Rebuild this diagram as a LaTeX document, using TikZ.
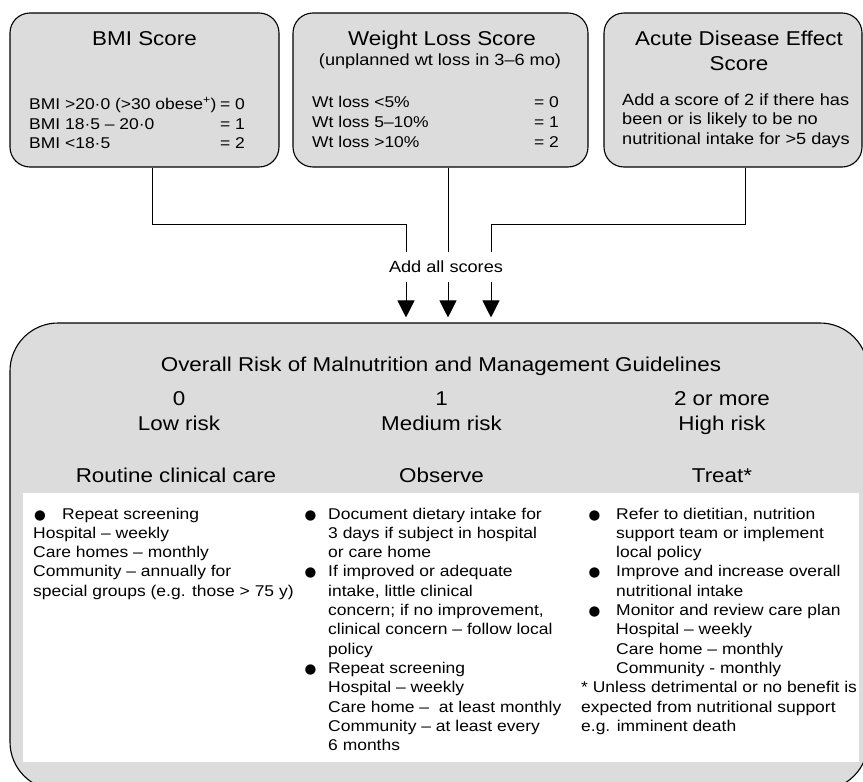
\documentclass[tikz,border=0pt]{standalone}
\usepackage{fontspec}
\setmainfont{Liberation Sans}[FakeStretch=1.12]
\newfontfamily\dejavu{DejaVu Sans}
\usetikzlibrary{arrows.meta}
\definecolor{boxgray}{RGB}{220,220,220}
\newcommand\bodyfont{\fontsize{15.6}{19.3}\selectfont}
\newcommand\headfont{\fontsize{20}{24}\selectfont}
\newcommand\bul[1]{\makebox[#1][l]{\hspace*{1pt}{\dejavu\fontsize{13.5}{15}\selectfont ●}}}
\begin{document}
\begin{tikzpicture}[x=1pt,y=-1pt,
  topbox/.style={draw=black, line width=1.1pt, fill=boxgray, rounded corners=20pt, inner sep=0pt, minimum height=154pt},
  txt/.style={inner sep=0pt, font=\bodyfont},
  head/.style={inner sep=0pt, font=\headfont, anchor=base},
  arr/.style={line width=1pt, -{Triangle[width=17pt,length=17pt]}, shorten >=5pt}]
\useasboundingbox (0,0) rectangle (863,782);

% top boxes
\node[topbox, minimum width=269pt] (bmi) at (144.5,90) {};
\node[topbox, minimum width=295pt] (wt) at (440.5,90) {};
\node[topbox, minimum width=258pt] (acute) at (733,90) {};

% bottom box
\node[draw=black, line width=1.1pt, fill=boxgray, rounded corners=48pt, inner sep=0pt,
      minimum width=858pt, minimum height=467pt] (risk) at (439,556.5) {};
\node[fill=white, inner sep=0pt, minimum width=836pt, minimum height=269pt] (guide) at (441,627.5) {};

% connectors
\coordinate (bm) at ([xshift=7.5pt]bmi.south);
\coordinate (wm) at ([xshift=7.5pt]wt.south);
\coordinate (am) at ([xshift=12pt]acute.south);
\coordinate (jl) at (406,224);
\coordinate (jr) at (491,224);
\draw[arr] (bm) |- (jl) -- (jl |- risk.north);
\draw[arr] (wm) -- (wm |- risk.north);
\draw[arr] (am) |- (jr) -- (jr |- risk.north);
\node[fill=white, inner xsep=1pt, inner ysep=0pt, minimum height=30pt, font=\fontsize{16.2}{19}\selectfont] (add) at (446,267) {Add all scores};

% BMI box text
\node[head] (bmit) at (144.5,45) {BMI Score};
\node[txt, anchor=base west] (b1) at (29,109) {BMI >20·0 (>30 obese\textsuperscript{+})};
\node[txt, anchor=base east] (b1v) at (245,109) {= 0};
\node[txt, anchor=base west] (b2) at (29,129) {BMI 18·5 – 20·0};
\node[txt, anchor=base east] (b2v) at (245,129) {= 1};
\node[txt, anchor=base west] (b3) at (29,148.5) {BMI <18·5};
\node[txt, anchor=base east] (b3v) at (245,148.5) {= 2};

% Weight loss box text
\node[head] (wtt) at (442,45) {Weight Loss Score};
\node[txt, anchor=base, font=\fontsize{16.2}{19}\selectfont] (wts) at (440,65) {(unplanned wt loss in 3–6 mo)};
\node[txt, anchor=base west] (w1) at (312,107) {Wt loss <5\%};
\node[txt, anchor=base east] (w1v) at (559,107) {= 0};
\node[txt, anchor=base west] (w2) at (312,127) {Wt loss 5–10\%};
\node[txt, anchor=base east] (w2v) at (559,127) {= 1};
\node[txt, anchor=base west] (w3) at (312,147.5) {Wt loss >10\%};
\node[txt, anchor=base east] (w3v) at (559,147.5) {= 2};

% Acute box text
\node[head] (act1) at (739,45) {Acute Disease Effect};
\node[head] (act2) at (739,70) {Score};
\node[txt, anchor=base west, font=\fontsize{16.2}{19.8}\selectfont] (acb) at (622,105) {\begin{tabular}[t]{@{}l@{}}
Add a score of 2 if there has\\
been or is likely to be no\\
nutritional intake for >5 days\end{tabular}};

% bottom headers
\node[head] (ovt) at (441,371) {Overall Risk of Malnutrition and Management Guidelines};
\node[head] (s0) at (179,405) {0};
\node[head] (lr) at (179,430) {Low risk};
\node[head] (rc) at (176,482) {Routine clinical care};
\node[head] (s1) at (441.5,405) {1};
\node[head] (mr) at (441.5,430) {Medium risk};
\node[head] (ob) at (441.5,482) {Observe};
\node[head] (s2) at (722,405) {2 or more};
\node[head] (hr) at (722,430) {High risk};
\node[head] (tr) at (722,482) {Treat*};

% columns
\node[txt, anchor=base west] (col1) at (33,519) {\begin{tabular}[t]{@{}l@{}}
\bul{29pt}Repeat screening\\
Hospital – weekly\\
Care homes – monthly\\
Community – annually for\\
special groups (e.g. those > 75 y)\end{tabular}};

\node[txt, anchor=base west] (col2) at (303.5,519) {\begin{tabular}[t]{@{}l@{}}
\bul{24.5pt}Document dietary intake for\\
\hspace*{24.5pt}3 days if subject in hospital\\
\hspace*{24.5pt}or care home\\
\bul{24.5pt}If improved or adequate\\
\hspace*{24.5pt}intake, little clinical\\
\hspace*{24.5pt}concern; if no improvement,\\
\hspace*{24.5pt}clinical concern – follow local\\
\hspace*{24.5pt}policy\\
\bul{24.5pt}Repeat screening\\
\hspace*{24.5pt}Hospital – weekly\\
\hspace*{24.5pt}Care home –\ \ at least monthly\\
\hspace*{24.5pt}Community – at least every\\
\hspace*{24.5pt}6 months\end{tabular}};

\node[txt, anchor=base west] (col3) at (587.5,519) {\begin{tabular}[t]{@{}l@{}}
\bul{28.5pt}Refer to dietitian, nutrition\\
\hspace*{28.5pt}support team or implement\\
\hspace*{28.5pt}local policy\\
\bul{28.5pt}Improve and increase overall\\
\hspace*{28.5pt}nutritional intake\\
\bul{28.5pt}Monitor and review care plan\\
\hspace*{28.5pt}Hospital – weekly\\
\hspace*{28.5pt}Care home – monthly\\
\hspace*{28.5pt}Community - monthly\end{tabular}};

\node[txt, anchor=base west] (foot) at (581,692.7) {\begin{tabular}[t]{@{}l@{}}
* Unless detrimental or no benefit is\\
expected from nutritional support\\
e.g. imminent death\end{tabular}};
\end{tikzpicture}
\end{document}
